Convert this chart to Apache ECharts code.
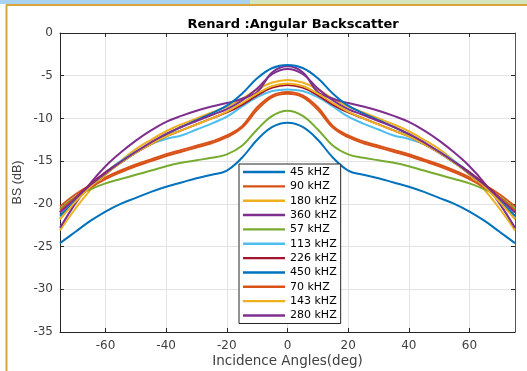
<!DOCTYPE html>
<html>
<head>
<meta charset="utf-8">
<script src="https://cdn.jsdelivr.net/npm/echarts@6/dist/echarts.min.js"></script>
<style>
  html, body { margin: 0; padding: 0; background: #fff; }
  #chart { width: 527px; height: 371px; }
</style>
</head>
<body>
<div id="chart"></div>
<script>
// Incidence angles (deg)
const angles = [-75,-70,-65,-60,-55,-50,-45,-40,-35,-30,-25,-20,-15,-10,-5,0,5,10,15,20,25,30,35,40,45,50,55,60,65,70,75];

// Backscatter strength (dB) per frequency
const bs45  = [-24.6,-23.3,-22.0,-20.9,-20.0,-19.3,-18.6,-18.0,-17.5,-17.0,-16.6,-16.1,-14.6,-12.5,-11.0,-10.5,-11.0,-12.5,-14.6,-16.1,-16.6,-17.0,-17.5,-18.0,-18.6,-19.3,-20.0,-20.9,-22.0,-23.3,-24.6];
const bs90  = [-20.3,-18.9,-17.8,-16.9,-16.1,-15.4,-14.8,-14.2,-13.7,-13.2,-12.7,-12.0,-10.9,-8.7,-7.3,-6.9,-7.3,-8.7,-10.9,-12.0,-12.7,-13.2,-13.7,-14.2,-14.8,-15.4,-16.1,-16.9,-17.8,-18.9,-20.3];
const bs180 = [-23.1,-20.6,-18.4,-16.6,-15.0,-13.6,-12.5,-11.5,-10.7,-10.0,-9.3,-8.6,-7.7,-6.6,-5.8,-5.5,-5.8,-6.6,-7.7,-8.6,-9.3,-10.0,-10.7,-11.5,-12.5,-13.6,-15.0,-16.6,-18.4,-20.6,-23.1];
const bs360 = [-22.8,-20.0,-17.6,-15.6,-14.0,-12.6,-11.4,-10.4,-9.7,-9.1,-8.6,-8.2,-7.7,-6.9,-4.6,-3.9,-4.6,-6.9,-7.7,-8.2,-8.6,-9.1,-9.7,-10.4,-11.4,-12.6,-14.0,-15.6,-17.6,-20.0,-22.8];
const bs57  = [-20.6,-19.2,-18.3,-17.6,-17.1,-16.6,-16.1,-15.6,-15.2,-14.9,-14.6,-14.2,-13.2,-11.3,-9.7,-9.1,-9.7,-11.3,-13.2,-14.2,-14.6,-14.9,-15.2,-15.6,-16.1,-16.6,-17.1,-17.6,-18.3,-19.2,-20.6];
const bs113 = [-21.7,-19.6,-17.8,-16.3,-15.0,-13.9,-13.0,-12.4,-12.0,-11.3,-10.6,-9.8,-8.6,-7.5,-6.8,-6.6,-6.8,-7.5,-8.6,-9.8,-10.6,-11.3,-12.0,-12.4,-13.0,-13.9,-15.0,-16.3,-17.8,-19.6,-21.7];
const bs226 = [-21.0,-19.3,-17.7,-16.3,-15.1,-14.0,-13.0,-12.1,-11.4,-10.7,-10.0,-9.3,-8.4,-7.3,-6.4,-6.1,-6.4,-7.3,-8.4,-9.3,-10.0,-10.7,-11.4,-12.1,-13.0,-14.0,-15.1,-16.3,-17.7,-19.3,-21.0];
const bs450 = [-21.4,-19.7,-18.0,-16.5,-15.2,-14.0,-12.9,-11.9,-11.0,-10.2,-9.4,-8.5,-7.1,-5.3,-4.1,-3.75,-4.1,-5.3,-7.1,-8.5,-9.4,-10.2,-11.0,-11.9,-12.9,-14.0,-15.2,-16.5,-18.0,-19.7,-21.4];
const bs70  = [-20.8,-19.3,-18.1,-17.1,-16.3,-15.6,-15.0,-14.4,-13.9,-13.4,-12.9,-12.2,-11.1,-9.0,-7.5,-7.1,-7.5,-9.0,-11.1,-12.2,-12.9,-13.4,-13.9,-14.4,-15.0,-15.6,-16.3,-17.1,-18.1,-19.3,-20.8];
const bs143 = [-21.8,-19.8,-18.0,-16.5,-15.2,-14.0,-13.0,-12.1,-11.4,-10.7,-10.0,-9.2,-8.2,-7.1,-6.2,-5.9,-6.2,-7.1,-8.2,-9.2,-10.0,-10.7,-11.4,-12.1,-13.0,-14.0,-15.2,-16.5,-18.0,-19.8,-21.8];
const bs280 = [-21.0,-19.4,-17.8,-16.4,-15.1,-13.9,-12.8,-11.8,-11.0,-10.3,-9.6,-8.9,-7.9,-6.5,-4.8,-4.2,-4.8,-6.5,-7.9,-8.9,-9.6,-10.3,-11.0,-11.8,-12.8,-13.9,-15.1,-16.4,-17.8,-19.4,-21.0];

const seriesNames = ['45 kHZ','90 kHZ','180 kHZ','360 kHZ','57 kHZ','113 kHZ','226 kHZ','450 kHZ','70 kHZ','143 kHZ','280 kHZ'];
const seriesValues = [bs45, bs90, bs180, bs360, bs57, bs113, bs226, bs450, bs70, bs143, bs280];
const lineColors = ['#0072BD','#D95319','#EDB120','#7E2F8E','#77AC30','#4DBEEE','#A2142F','#0072BD','#D95319','#EDB120','#7E2F8E'];

const xTicks = [-60,-40,-20,0,20,40,60];

const axisColor = '#262626';
const labelColor = '#404040';
const gridColor = '#e3e3e3';
const uiFont = 'DejaVu Sans';

const chart = echarts.init(document.getElementById('chart'), null, { renderer: 'canvas' });

const series = seriesNames.map((name, k) => ({
  name: name,
  type: 'line',
  xAxisIndex: 0,
  yAxisIndex: 0,
  data: angles.map((a, i) => [a, seriesValues[k][i]]),
  smooth: 0.4,
  symbol: 'none',
  lineStyle: { width: 2, color: lineColors[k] },
  itemStyle: { color: lineColors[k] },
  emphasis: { disabled: true },
  animation: false
}));

chart.setOption({
  backgroundColor: '#ffffff',
  animation: false,
  title: {
    text: 'Renard :Angular Backscatter',
    left: 288,
    textAlign: 'center',
    top: 13,
    textStyle: { fontFamily: uiFont, fontSize: 13, fontWeight: 'bold', color: '#000' }
  },
  grid: { left: 60, right: 12, top: 33, bottom: 39, containLabel: false, outerBoundsMode: 'none' },
  legend: {
    orient: 'vertical',
    left: 239,
    top: 164,
    padding: [1, 4, 1, 4],
    itemWidth: 42,
    itemHeight: 14,
    itemGap: 0.35,
    icon: 'path://M0,0H42V2.4H0Z',
    backgroundColor: '#ffffff',
    borderColor: axisColor,
    borderWidth: 1,
    borderRadius: 0,
    textStyle: { fontFamily: uiFont, fontSize: 11, color: '#000', lineHeight: 14 },
    data: seriesNames
  },
  xAxis: [
    {
      type: 'value',
      position: 'bottom',
      min: -75,
      max: 75,
      name: 'Incidence Angles(deg)',
      nameLocation: 'middle',
      nameGap: 22,
      nameMoveOverlap: false,
      nameTextStyle: { fontFamily: uiFont, fontSize: 13.5, color: labelColor },
      axisLine: { show: true, onZero: false, lineStyle: { color: axisColor, width: 1 } },
      axisTick: { show: true, inside: true, length: 4, customValues: xTicks, lineStyle: { color: axisColor } },
      axisLabel: { customValues: xTicks, margin: 8, fontFamily: uiFont, fontSize: 12, color: labelColor },
      splitLine: { show: true, lineStyle: { color: gridColor, width: 1 } }
    },
    {
      type: 'value',
      position: 'top',
      min: -75,
      max: 75,
      axisLine: { show: true, onZero: false, lineStyle: { color: axisColor, width: 1 } },
      axisTick: { show: true, inside: true, length: 4, customValues: xTicks, lineStyle: { color: axisColor } },
      axisLabel: { show: false },
      splitLine: { show: false }
    }
  ],
  yAxis: [
    {
      type: 'value',
      position: 'left',
      min: -35,
      max: 0,
      interval: 5,
      name: 'BS (dB)',
      nameLocation: 'middle',
      nameGap: 36,
      nameMoveOverlap: false,
      nameTextStyle: { fontFamily: 'Liberation Sans', fontSize: 12.5, color: labelColor },
      axisLine: { show: true, onZero: false, lineStyle: { color: axisColor, width: 1 } },
      axisTick: { show: true, inside: true, length: 4, lineStyle: { color: axisColor } },
      axisLabel: { margin: 7, fontFamily: uiFont, fontSize: 12, color: labelColor },
      splitLine: { show: true, lineStyle: { color: gridColor, width: 1 } }
    },
    {
      type: 'value',
      position: 'right',
      min: -35,
      max: 0,
      interval: 5,
      axisLine: { show: true, onZero: false, lineStyle: { color: '#555', width: 1 } },
      axisTick: { show: true, inside: true, length: 4, lineStyle: { color: axisColor } },
      axisLabel: { show: false },
      splitLine: { show: false }
    }
  ],
  graphic: [
    { type: 'rect', shape: { x: 0, y: 0, width: 250, height: 4 }, style: { fill: '#a8d2f0' }, silent: true },
    { type: 'rect', shape: { x: 250, y: 0, width: 277, height: 4 }, style: { fill: '#d3e6bd' }, silent: true },
    { type: 'line', shape: { x1: 6, y1: 5, x2: 527, y2: 5 }, style: { stroke: '#d9a53a', lineWidth: 2 }, silent: true },
    { type: 'line', shape: { x1: 6.5, y1: 5, x2: 6.5, y2: 371 }, style: { stroke: '#d9a53a', lineWidth: 2 }, silent: true }
  ],
  series: series
});
</script>
</body>
</html>
